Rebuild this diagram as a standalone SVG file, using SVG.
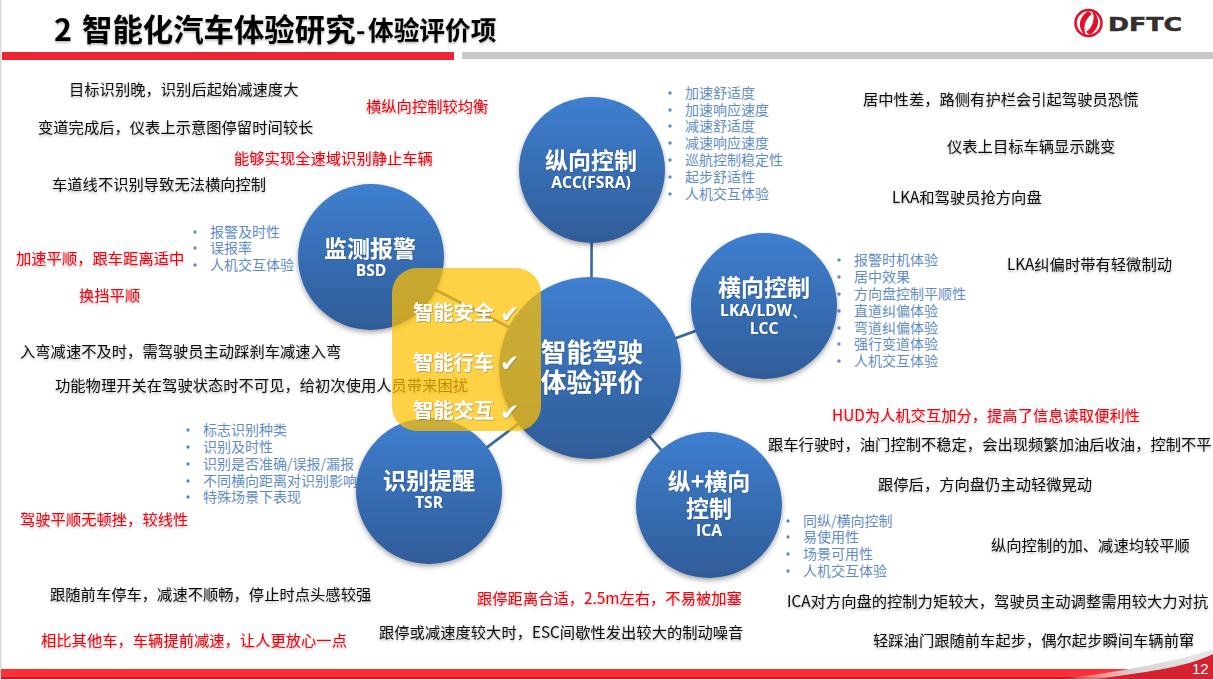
<svg xmlns="http://www.w3.org/2000/svg" width="1213" height="679" viewBox="0 0 1213 679">
<style>
text{font-family:"Noto Sans CJK SC","Liberation Sans",sans-serif}
.k,.r{font-size:15.3px}
.k{fill:#111}
.r{fill:#f5000f}
.l{font-size:14px;fill:#5f8cc8}
.t{fill:#fff;font-weight:700;text-anchor:middle;font-size:23px}
.s{fill:#fff;font-weight:700;text-anchor:middle;font-size:15.6px;font-family:"Open Sans","Liberation Sans",sans-serif}
.y{fill:#fff;font-weight:700;font-size:20.3px}
.c{fill:#fff;font-size:23px;font-family:"DejaVu Sans",sans-serif}
.n{fill:url(#blue);filter:url(#ns)}
.cn{stroke:#39689f;stroke-width:2.6;fill:none}
.b{fill:#5f8cc8}
</style>
<defs>
<linearGradient id="blue" x1="0" y1="0" x2="0" y2="1"><stop offset="0" stop-color="#3f7fd0"/><stop offset="1" stop-color="#2f5c98"/></linearGradient>
<linearGradient id="band" x1="0" y1="0" x2="1" y2="0"><stop offset="0" stop-color="#fff" stop-opacity="0"/><stop offset=".5" stop-color="#d4d4d4"/><stop offset="1" stop-color="#e8e8e8"/></linearGradient>
<filter id="ns" x="-15%" y="-15%" width="130%" height="130%"><feDropShadow dx="0" dy="2.5" stdDeviation="2.5" flood-color="#000" flood-opacity=".35"/></filter>
<filter id="ts" x="-5%" y="-20%" width="110%" height="150%"><feDropShadow dx="0" dy="1.5" stdDeviation=".8" flood-color="#000" flood-opacity=".3"/></filter>
<filter id="ws" x="-10%" y="-20%" width="120%" height="150%"><feDropShadow dx=".7" dy=".7" stdDeviation=".5" flood-color="#1f3f70" flood-opacity=".45"/></filter>
</defs>

<g id="frame">
<rect x="0" y="0" width="1.5" height="679" fill="#d9d9d9"/>
<rect x="2" y="52" width="452" height="8" fill="#ed2533"/>
<rect x="462" y="52" width="751" height="7" fill="#c8c8c8"/>
<rect x="1" y="669" width="1212" height="10" fill="#ff3034"/>
<rect x="1" y="677" width="1212" height="2" fill="#c01c28"/>
<path d="M1060 679C1120 672 1175 662 1213 649V655C1185 668 1140 673 1097 679Z" fill="url(#band)"/>
<path d="M1097 679C1140 673 1185 668 1213 654V679Z" fill="#d5222e"/>
<text x="1192" y="674" font-size="15" fill="#fff" style="font-family:'Liberation Sans',sans-serif">12</text>
</g>

<g id="title" filter="url(#ts)">
<text x="54" y="41" font-size="30.4" font-weight="700" fill="#000">2 <tspan x="82">智能化汽车体验研究</tspan></text>
<text x="356" y="40" font-size="25.7" font-weight="700" fill="#000">-<tspan x="368">体验评价项</tspan></text>
</g>

<g id="logo">
<circle cx="1088.500" cy="23" r="13" fill="none" stroke="#e60f2a" stroke-width="2.6"/>
<path d="M1088 11C1078 18 1077 28 1086 36C1083 28 1084 20 1092 14Z" fill="#e60f2a"/>
<path d="M1090 35C1100 28 1101 18 1092 10C1095 18 1094 26 1086 32Z" fill="#e60f2a"/>
<text x="1108" y="31" font-size="19" font-weight="700" fill="#35302f" stroke="#35302f" stroke-width=".5" textLength="74" lengthAdjust="spacingAndGlyphs" style="font-family:'DejaVu Sans',sans-serif">DFTC</text>
</g>

<g id="connectors" class="cn">
<line x1="591" y1="369" x2="592" y2="170"/>
<line x1="591" y1="369" x2="764" y2="306"/>
<line x1="591" y1="369" x2="709" y2="505"/>
<line x1="591" y1="369" x2="429" y2="491"/>
<line x1="591" y1="369" x2="371" y2="257"/>
</g>

<g id="notes-black" class="k" filter="url(#ts)">
<text class="k" x="69" y="95">目标识别晚，识别后起始减速度大</text>
<text class="k" x="38" y="133">变道完成后，仪表上示意图停留时间较长</text>
<text class="k" x="52" y="190">车道线不识别导致无法横向控制</text>
<text class="k" x="20" y="357">入弯减速不及时，需驾驶员主动踩刹车减速入弯</text>
<text class="k" x="55" y="391">功能物理开关在驾驶状态时不可见，给初次使用人员带来困扰</text>
<text class="k" x="50" y="600">跟随前车停车，减速不顺畅，停止时点头感较强</text>
<text class="k" x="379" y="638">跟停或减速度较大时，ESC间歇性发出较大的制动噪音</text>
<text class="k" x="863" y="105">居中性差，路侧有护栏会引起驾驶员恐慌</text>
<text class="k" x="947" y="152">仪表上目标车辆显示跳变</text>
<text class="k" x="892" y="203">LKA和驾驶员抢方向盘</text>
<text class="k" x="1007" y="270">LKA纠偏时带有轻微制动</text>
<text class="k" x="768" y="450">跟车行驶时，油门控制不稳定，会出现频繁加油后收油，控制不平</text>
<text class="k" x="878" y="490">跟停后，方向盘仍主动轻微晃动</text>
<text class="k" x="991" y="551">纵向控制的加、减速均较平顺</text>
<text class="k" x="787" y="607">ICA对方向盘的控制力矩较大，驾驶员主动调整需用较大力对抗</text>
<text class="k" x="873" y="646">轻踩油门跟随前车起步，偶尔起步瞬间车辆前窜</text>
</g>

<g id="notes-red" filter="url(#ts)">
<text class="r" x="366" y="112">横纵向控制较均衡</text>
<text class="r" x="234" y="164">能够实现全速域识别静止车辆</text>
<text class="r" x="16" y="264">加速平顺，跟车距离适中</text>
<text class="r" x="79" y="301">换挡平顺</text>
<text class="r" x="20" y="525">驾驶平顺无顿挫，较线性</text>
<text class="r" x="41" y="646">相比其他车，车辆提前减速，让人更放心一点</text>
<text class="r" x="477" y="604">跟停距离合适，2.5m左右，不易被加塞</text>
<text class="r" x="832" y="421">HUD为人机交互加分，提高了信息读取便利性</text>
</g>

<g id="list-acc">
<circle class="b" cx="670" cy="93" r="1.7"/><circle class="b" cx="670" cy="110" r="1.7"/><circle class="b" cx="670" cy="126" r="1.7"/><circle class="b" cx="670" cy="143" r="1.7"/><circle class="b" cx="670" cy="160" r="1.7"/><circle class="b" cx="670" cy="177" r="1.7"/><circle class="b" cx="670" cy="194" r="1.7"/>
<text class="l" x="685" y="98">加速舒适度</text>
<text class="l" x="685" y="115">加速响应速度</text>
<text class="l" x="685" y="131">减速舒适度</text>
<text class="l" x="685" y="148">减速响应速度</text>
<text class="l" x="685" y="165">巡航控制稳定性</text>
<text class="l" x="685" y="182">起步舒适性</text>
<text class="l" x="685" y="199">人机交互体验</text>
</g>
<g id="list-bsd">
<circle class="b" cx="195" cy="232" r="1.7"/><circle class="b" cx="195" cy="248" r="1.7"/><circle class="b" cx="195" cy="265" r="1.7"/>
<text class="l" x="210" y="237">报警及时性</text>
<text class="l" x="210" y="253">误报率</text>
<text class="l" x="210" y="270">人机交互体验</text>
</g>
<g id="list-lka">
<circle class="b" cx="839" cy="260" r="1.7"/><circle class="b" cx="839" cy="277" r="1.7"/><circle class="b" cx="839" cy="294" r="1.7"/><circle class="b" cx="839" cy="311" r="1.7"/><circle class="b" cx="839" cy="328" r="1.7"/><circle class="b" cx="839" cy="344" r="1.7"/><circle class="b" cx="839" cy="361" r="1.7"/>
<text class="l" x="854" y="265">报警时机体验</text>
<text class="l" x="854" y="282">居中效果</text>
<text class="l" x="854" y="299">方向盘控制平顺性</text>
<text class="l" x="854" y="316">直道纠偏体验</text>
<text class="l" x="854" y="333">弯道纠偏体验</text>
<text class="l" x="854" y="349">强行变道体验</text>
<text class="l" x="854" y="366">人机交互体验</text>
</g>
<g id="list-tsr">
<circle class="b" cx="188" cy="430" r="1.7"/><circle class="b" cx="188" cy="447" r="1.7"/><circle class="b" cx="188" cy="464" r="1.7"/><circle class="b" cx="188" cy="481" r="1.7"/><circle class="b" cx="188" cy="497" r="1.7"/>
<text class="l" x="203" y="435">标志识别种类</text>
<text class="l" x="203" y="452">识别及时性</text>
<text class="l" x="203" y="469">识别是否准确/误报/漏报</text>
<text class="l" x="203" y="486">不同横向距离对识别影响</text>
<text class="l" x="203" y="502">特殊场景下表现</text>
</g>
<g id="list-ica">
<circle class="b" cx="788" cy="521" r="1.7"/><circle class="b" cx="788" cy="537" r="1.7"/><circle class="b" cx="788" cy="554" r="1.7"/><circle class="b" cx="788" cy="571" r="1.7"/>
<text class="l" x="803" y="526">同纵/横向控制</text>
<text class="l" x="803" y="542">易使用性</text>
<text class="l" x="803" y="559">场景可用性</text>
<text class="l" x="803" y="576">人机交互体验</text>
</g>

<g id="node-acc"><circle class="n" cx="592" cy="170" r="73"/>
<g filter="url(#ws)"><text class="t" x="591" y="169">纵向控制</text><text class="s" x="591" y="188">ACC(FSRA)</text></g></g>
<g id="node-bsd"><circle class="n" cx="371" cy="257" r="73"/>
<g filter="url(#ws)"><text class="t" x="370" y="257">监测报警</text><text class="s" x="371" y="276">BSD</text></g></g>
<g id="node-lka"><circle class="n" cx="764" cy="306" r="73"/>
<g filter="url(#ws)"><text class="t" x="764" y="296">横向控制</text><text class="s" x="764" y="316">LKA/LDW、</text><text class="s" x="764" y="334">LCC</text></g></g>
<g id="node-tsr"><circle class="n" cx="429" cy="491" r="73"/>
<g filter="url(#ws)"><text class="t" x="429" y="489">识别提醒</text><text class="s" x="429" y="508">TSR</text></g></g>
<g id="node-ica"><circle class="n" cx="709" cy="505" r="73"/>
<g filter="url(#ws)"><text class="t" x="709" y="490">纵+横向</text><text class="t" x="709" y="517">控制</text><text class="s" x="709" y="536">ICA</text></g></g>
<g id="node-center"><circle class="n" cx="590" cy="368" r="91"/>
<g filter="url(#ws)"><text class="t" x="592" y="362" style="font-size:25.6px">智能驾驶</text><text class="t" x="592" y="392" style="font-size:25.6px">体验评价</text></g></g>

<g id="node-highlight">
<rect x="392" y="268" width="149" height="163" rx="25" ry="25" fill="#ffc000" fill-opacity=".73"/>
<g filter="url(#ws)">
<text class="y" x="413" y="320">智能安全</text><text class="c" x="500" y="322">✔</text>
<text class="y" x="413" y="370">智能行车</text><text class="c" x="500" y="371">✔</text>
<text class="y" x="413" y="418">智能交互</text><text class="c" x="500" y="420">✔</text>
</g>
</g>
</svg>
